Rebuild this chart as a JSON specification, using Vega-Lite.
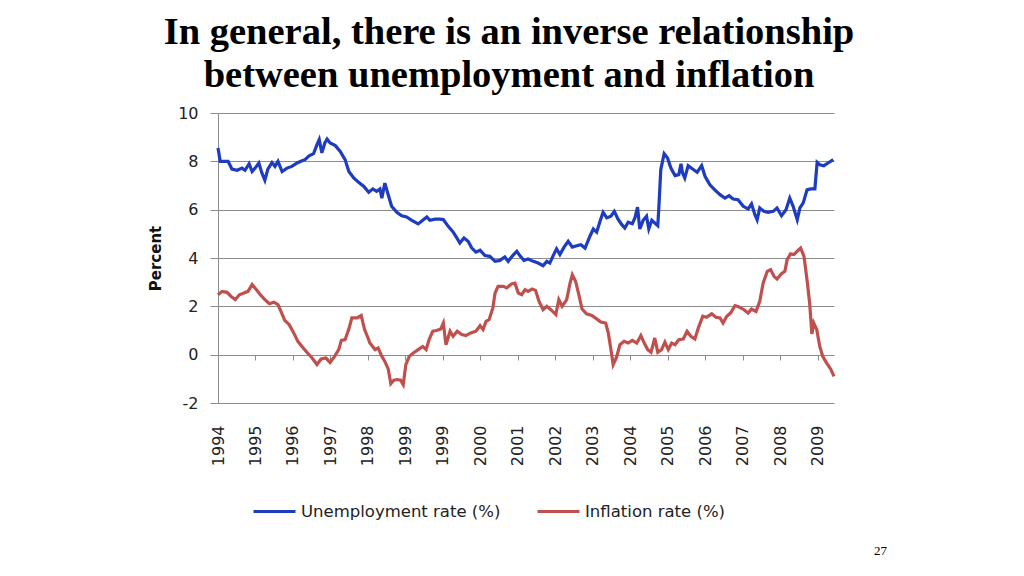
{
  "$schema": "https://vega.github.io/schema/vega-lite/v6.json",
  "autosize": {"type": "none"},
  "padding": {"left": 218, "top": 113, "right": 190, "bottom": 173},
  "width": 616,
  "height": 290,
  "background": "white",
  "config": {"view": {"stroke": null}},
  "title": {
    "text": ["In general, there is an inverse relationship", "between unemployment and inflation"],
    "font": "Liberation Serif",
    "fontSize": 38.5,
    "fontWeight": "bold",
    "color": "#000000",
    "anchor": "middle",
    "dx": -17,
    "baseline": "bottom",
    "lineHeight": 43,
    "offset": -28
  },
  "datasets": {
    "unemployment": [
      {"t":0,"v":8.55},{"t":0.06,"v":8.0},{"t":0.15,"v":8.0},{"t":0.27,"v":8.0},{"t":0.37,"v":7.68},{"t":0.51,"v":7.63},{"t":0.64,"v":7.72},{"t":0.72,"v":7.63},{"t":0.83,"v":7.9},{"t":0.91,"v":7.58},{"t":0.99,"v":7.72},{"t":1.09,"v":7.93},{"t":1.17,"v":7.52},{"t":1.25,"v":7.22},{"t":1.33,"v":7.68},{"t":1.44,"v":7.95},{"t":1.52,"v":7.79},{"t":1.6,"v":8.0},{"t":1.71,"v":7.58},{"t":1.84,"v":7.72},{"t":1.97,"v":7.79},{"t":2.11,"v":7.93},{"t":2.21,"v":8.0},{"t":2.32,"v":8.07},{"t":2.43,"v":8.23},{"t":2.55,"v":8.32},{"t":2.64,"v":8.69},{"t":2.7,"v":8.9},{"t":2.77,"v":8.35},{"t":2.85,"v":8.76},{"t":2.91,"v":8.92},{"t":2.99,"v":8.76},{"t":3.13,"v":8.65},{"t":3.26,"v":8.41},{"t":3.39,"v":8.07},{"t":3.49,"v":7.58},{"t":3.62,"v":7.31},{"t":3.75,"v":7.13},{"t":3.89,"v":6.96},{"t":4.02,"v":6.72},{"t":4.13,"v":6.86},{"t":4.23,"v":6.76},{"t":4.32,"v":6.86},{"t":4.37,"v":6.48},{"t":4.45,"v":7.1},{"t":4.54,"v":6.62},{"t":4.63,"v":6.14},{"t":4.77,"v":5.89},{"t":4.9,"v":5.75},{"t":5.03,"v":5.7},{"t":5.17,"v":5.56},{"t":5.34,"v":5.41},{"t":5.46,"v":5.56},{"t":5.57,"v":5.7},{"t":5.65,"v":5.56},{"t":5.79,"v":5.61},{"t":5.92,"v":5.61},{"t":6.01,"v":5.59},{"t":6.14,"v":5.31},{"t":6.26,"v":5.1},{"t":6.37,"v":4.83},{"t":6.45,"v":4.62},{"t":6.56,"v":4.83},{"t":6.67,"v":4.69},{"t":6.77,"v":4.41},{"t":6.88,"v":4.24},{"t":6.99,"v":4.32},{"t":7.12,"v":4.1},{"t":7.25,"v":4.07},{"t":7.39,"v":3.86},{"t":7.52,"v":3.9},{"t":7.65,"v":4.04},{"t":7.74,"v":3.86},{"t":7.86,"v":4.1},{"t":7.97,"v":4.28},{"t":8.05,"v":4.1},{"t":8.16,"v":3.9},{"t":8.27,"v":3.96},{"t":8.41,"v":3.86},{"t":8.54,"v":3.79},{"t":8.67,"v":3.68},{"t":8.77,"v":3.86},{"t":8.85,"v":3.79},{"t":8.94,"v":4.1},{"t":9.03,"v":4.38},{"t":9.12,"v":4.14},{"t":9.23,"v":4.45},{"t":9.34,"v":4.69},{"t":9.45,"v":4.45},{"t":9.57,"v":4.51},{"t":9.68,"v":4.55},{"t":9.79,"v":4.41},{"t":9.92,"v":4.9},{"t":10.01,"v":5.2},{"t":10.1,"v":5.07},{"t":10.19,"v":5.52},{"t":10.27,"v":5.89},{"t":10.37,"v":5.66},{"t":10.48,"v":5.73},{"t":10.57,"v":5.93},{"t":10.67,"v":5.61},{"t":10.77,"v":5.38},{"t":10.85,"v":5.24},{"t":10.94,"v":5.48},{"t":11.05,"v":5.42},{"t":11.12,"v":5.66},{"t":11.19,"v":6.1},{"t":11.25,"v":5.2},{"t":11.34,"v":5.56},{"t":11.43,"v":5.73},{"t":11.49,"v":5.2},{"t":11.57,"v":5.56},{"t":11.65,"v":5.45},{"t":11.73,"v":5.34},{"t":11.76,"v":6.14},{"t":11.81,"v":7.66},{"t":11.9,"v":8.32},{"t":11.99,"v":8.14},{"t":12.08,"v":7.72},{"t":12.19,"v":7.41},{"t":12.29,"v":7.45},{"t":12.35,"v":7.9},{"t":12.39,"v":7.52},{"t":12.45,"v":7.31},{"t":12.54,"v":7.82},{"t":12.66,"v":7.68},{"t":12.78,"v":7.55},{"t":12.9,"v":7.82},{"t":12.99,"v":7.38},{"t":13.12,"v":7.03},{"t":13.25,"v":6.82},{"t":13.39,"v":6.62},{"t":13.52,"v":6.48},{"t":13.63,"v":6.58},{"t":13.74,"v":6.44},{"t":13.87,"v":6.41},{"t":14.01,"v":6.14},{"t":14.14,"v":6.03},{"t":14.23,"v":6.24},{"t":14.32,"v":5.79},{"t":14.38,"v":5.58},{"t":14.45,"v":6.07},{"t":14.56,"v":5.93},{"t":14.67,"v":5.89},{"t":14.81,"v":5.93},{"t":14.91,"v":6.07},{"t":15.03,"v":5.75},{"t":15.15,"v":6.0},{"t":15.25,"v":6.48},{"t":15.34,"v":6.14},{"t":15.45,"v":5.58},{"t":15.52,"v":6.07},{"t":15.61,"v":6.28},{"t":15.71,"v":6.82},{"t":15.81,"v":6.86},{"t":15.92,"v":6.86},{"t":15.98,"v":7.96},{"t":16.05,"v":7.86},{"t":16.16,"v":7.82},{"t":16.27,"v":7.93},{"t":16.41,"v":8.07}
    ],
    "inflation": [
      {"t":0,"v":2.48},{"t":0.11,"v":2.62},{"t":0.24,"v":2.58},{"t":0.35,"v":2.41},{"t":0.46,"v":2.28},{"t":0.57,"v":2.48},{"t":0.69,"v":2.55},{"t":0.8,"v":2.62},{"t":0.91,"v":2.9},{"t":1.01,"v":2.72},{"t":1.13,"v":2.48},{"t":1.25,"v":2.28},{"t":1.37,"v":2.11},{"t":1.49,"v":2.17},{"t":1.6,"v":2.07},{"t":1.69,"v":1.75},{"t":1.78,"v":1.42},{"t":1.9,"v":1.24},{"t":2.02,"v":0.9},{"t":2.13,"v":0.55},{"t":2.24,"v":0.34},{"t":2.37,"v":0.1},{"t":2.51,"v":-0.14},{"t":2.64,"v":-0.41},{"t":2.75,"v":-0.18},{"t":2.88,"v":-0.14},{"t":2.99,"v":-0.32},{"t":3.11,"v":-0.07},{"t":3.22,"v":0.21},{"t":3.29,"v":0.59},{"t":3.39,"v":0.62},{"t":3.49,"v":1.06},{"t":3.57,"v":1.52},{"t":3.71,"v":1.52},{"t":3.82,"v":1.62},{"t":3.91,"v":1.04},{"t":4.02,"v":0.62},{"t":4.05,"v":0.48},{"t":4.19,"v":0.21},{"t":4.27,"v":0.28},{"t":4.37,"v":-0.07},{"t":4.45,"v":-0.28},{"t":4.54,"v":-0.59},{"t":4.61,"v":-1.2},{"t":4.69,"v":-1.06},{"t":4.78,"v":-1.03},{"t":4.87,"v":-1.06},{"t":4.94,"v":-1.24},{"t":5.01,"v":-0.41},{"t":5.1,"v":-0.07},{"t":5.21,"v":0.07},{"t":5.34,"v":0.21},{"t":5.46,"v":0.34},{"t":5.55,"v":0.21},{"t":5.63,"v":0.62},{"t":5.73,"v":0.97},{"t":5.83,"v":1.0},{"t":5.94,"v":1.06},{"t":6.01,"v":1.31},{"t":6.08,"v":0.41},{"t":6.19,"v":0.97},{"t":6.27,"v":0.76},{"t":6.38,"v":0.97},{"t":6.5,"v":0.83},{"t":6.61,"v":0.79},{"t":6.74,"v":0.9},{"t":6.88,"v":0.97},{"t":6.99,"v":1.2},{"t":7.07,"v":1.04},{"t":7.15,"v":1.38},{"t":7.23,"v":1.45},{"t":7.33,"v":1.93},{"t":7.39,"v":2.55},{"t":7.47,"v":2.83},{"t":7.61,"v":2.83},{"t":7.7,"v":2.76},{"t":7.83,"v":2.93},{"t":7.92,"v":2.96},{"t":8.01,"v":2.55},{"t":8.1,"v":2.48},{"t":8.19,"v":2.69},{"t":8.27,"v":2.62},{"t":8.38,"v":2.72},{"t":8.47,"v":2.66},{"t":8.56,"v":2.21},{"t":8.67,"v":1.86},{"t":8.77,"v":2.0},{"t":8.88,"v":1.86},{"t":9.01,"v":1.66},{"t":9.09,"v":2.28},{"t":9.18,"v":2.0},{"t":9.3,"v":2.28},{"t":9.39,"v":2.96},{"t":9.45,"v":3.31},{"t":9.54,"v":3.03},{"t":9.63,"v":2.44},{"t":9.71,"v":1.89},{"t":9.83,"v":1.69},{"t":9.97,"v":1.62},{"t":10.1,"v":1.48},{"t":10.21,"v":1.35},{"t":10.34,"v":1.31},{"t":10.41,"v":0.9},{"t":10.48,"v":0.21},{"t":10.54,"v":-0.41},{"t":10.63,"v":-0.1},{"t":10.72,"v":0.41},{"t":10.83,"v":0.55},{"t":10.94,"v":0.48},{"t":11.05,"v":0.59},{"t":11.17,"v":0.48},{"t":11.28,"v":0.79},{"t":11.37,"v":0.48},{"t":11.46,"v":0.21},{"t":11.55,"v":0.1},{"t":11.65,"v":0.69},{"t":11.73,"v":0.1},{"t":11.83,"v":0.21},{"t":11.92,"v":0.52},{"t":12.01,"v":0.21},{"t":12.1,"v":0.48},{"t":12.19,"v":0.41},{"t":12.29,"v":0.62},{"t":12.41,"v":0.65},{"t":12.51,"v":0.97},{"t":12.61,"v":0.76},{"t":12.72,"v":0.65},{"t":12.81,"v":1.1},{"t":12.93,"v":1.59},{"t":13.03,"v":1.55},{"t":13.17,"v":1.69},{"t":13.28,"v":1.55},{"t":13.39,"v":1.52},{"t":13.47,"v":1.31},{"t":13.57,"v":1.59},{"t":13.67,"v":1.72},{"t":13.79,"v":2.03},{"t":13.9,"v":1.97},{"t":14.03,"v":1.86},{"t":14.14,"v":1.72},{"t":14.23,"v":1.89},{"t":14.35,"v":1.79},{"t":14.45,"v":2.21},{"t":14.54,"v":2.96},{"t":14.65,"v":3.45},{"t":14.74,"v":3.52},{"t":14.83,"v":3.24},{"t":14.91,"v":3.13},{"t":15.03,"v":3.35},{"t":15.12,"v":3.45},{"t":15.18,"v":3.93},{"t":15.27,"v":4.17},{"t":15.36,"v":4.14},{"t":15.45,"v":4.28},{"t":15.54,"v":4.41},{"t":15.63,"v":4.07},{"t":15.71,"v":3.1},{"t":15.78,"v":2.14},{"t":15.84,"v":0.86},{"t":15.89,"v":1.31},{"t":15.97,"v":1.04},{"t":16.05,"v":0.34},{"t":16.13,"v":-0.07},{"t":16.23,"v":-0.34},{"t":16.34,"v":-0.59},{"t":16.43,"v":-0.9}
    ]
  },
  "encoding": {
    "x": {
      "field": "t",
      "type": "quantitative",
      "scale": {"domain": [0, 16.43], "nice": false, "zero": false},
      "axis": {
        "title": "27",
        "titleFont": "Liberation Serif",
        "titleFontSize": 13,
        "titleFontWeight": "normal",
        "titleColor": "#000000",
        "titleX": 662,
        "titleY": 195,
        "titleAlign": "center",
        "titleBaseline": "middle",
        "values": [0,1,2,3,4,5,6,7,8,9,10,11,12,13,14,15,16],
        "labelExpr": "['1994','1995','1996','1997','1998','1999','1999','2000','2001','2002','2003','2004','2005','2006','2007','2008','2009'][datum.value]",
        "offset": -48,
        "grid": false,
        "domain": true,
        "domainColor": "#8c8c8c",
        "ticks": true,
        "tickSize": 5,
        "tickColor": "#8c8c8c",
        "labelAngle": 270,
        "labelAlign": "right",
        "labelBaseline": "middle",
        "labelPadding": 65,
        "labelFont": "DejaVu Sans",
        "labelFontSize": 16,
        "labelColor": "#222222",
        "labelFlush": false,
        "labelOverlap": false
      }
    },
    "y": {
      "field": "v",
      "type": "quantitative",
      "scale": {"domain": [-2, 10], "nice": false, "zero": false},
      "axis": {
        "title": "Percent",
        "titleFont": "DejaVu Sans",
        "titleFontSize": 15,
        "titleFontWeight": "bold",
        "titleColor": "#111111",
        "titlePadding": 14,
        "values": [-2,0,2,4,6,8,10],
        "labelExpr": "toString(datum.value)",
        "grid": true,
        "gridColor": "#8c8c8c",
        "gridWidth": 1,
        "domain": true,
        "domainColor": "#8c8c8c",
        "ticks": true,
        "tickSize": 8,
        "tickColor": "#8c8c8c",
        "labelPadding": 12,
        "labelFont": "DejaVu Sans",
        "labelFontSize": 16,
        "labelColor": "#222222",
        "labelFlush": false
      }
    }
  },
  "layer": [
    {
      "data": {"name": "unemployment"},
      "mark": {"type": "line", "strokeWidth": 3.2, "interpolate": "linear"},
      "encoding": {
        "color": {
          "datum": "Unemployment rate (%)",
          "type": "nominal",
          "scale": {"domain": ["Unemployment rate (%)", "Inflation rate (%)"], "range": ["#1d3cc0", "#c0504d"]},
          "legend": {
            "title": null,
            "orient": "none",
            "direction": "horizontal",
            "legendX": 34,
            "legendY": 376,
            "padding": 0,
            "symbolType": "stroke",
            "symbolSize": 1764,
            "symbolStrokeWidth": 3,
            "labelFont": "DejaVu Sans",
            "labelFontSize": 16.5,
            "labelColor": "#222222",
            "labelOffset": 4,
            "labelLimit": 400,
            "columnPadding": 30
          }
        }
      }
    },
    {
      "data": {"name": "inflation"},
      "mark": {"type": "line", "strokeWidth": 3.2, "interpolate": "linear"},
      "encoding": {
        "color": {"datum": "Inflation rate (%)", "type": "nominal"}
      }
    }
  ]
}
